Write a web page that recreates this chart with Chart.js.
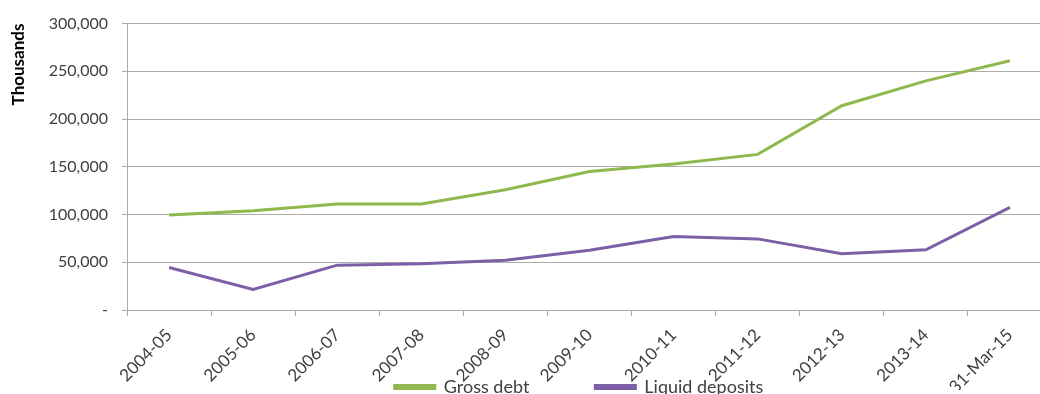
<!DOCTYPE html>
<html>
<head>
<meta charset="utf-8">
<script src="https://cdn.jsdelivr.net/npm/chart.js@4/dist/chart.umd.min.js"></script>
<style>
  html, body { margin: 0; padding: 0; background: #ffffff; overflow: hidden; }
  #wrap { position: absolute; left: 0; top: 0; width: 1070px; height: 484px; }
</style>
</head>
<body>
<div id="wrap"><canvas id="chart"></canvas></div>
<script>
// Financial years on the category axis
const categories = ['2004-05', '2005-06', '2006-07', '2007-08', '2008-09', '2009-10',
                    '2010-11', '2011-12', '2012-13', '2013-14', '31-Mar-15'];

// Values in thousands
const grossDebt      = [99500, 104000, 111000, 111000, 126000, 145000, 153000, 163000, 214000, 240000, 261000];
const liquidDeposits = [44500, 21500, 47000, 48500, 52000, 62500, 77000, 74500, 59000, 63000, 107500];

// Value axis range
const yMin = 0;
const yMax = 300000;
const yStep = 50000;

const seriesNames = ['Gross debt', 'Liquid deposits'];
const axisTitle = 'Thousands';

const GREEN = '#8fb84f';
const PURPLE = '#7c5fa6';
const GRID = '#ababab';
const TEXT = '#404040';
const FONT = 'Lato, "Open Sans", sans-serif';
const LEGEND_SIZE = 18;
const LEGEND_GAP = 66;

// Places the legend row: horizontal nudge and a fixed text centre line
const legendPlace = {
  id: 'legendPlace',
  afterLayout(chart, args, opts) {
    const lg = chart.legend;
    if (!lg) return;
    lg.left += opts.dx;
    lg.right += opts.dx;
    const top = opts.textY - LEGEND_GAP - LEGEND_SIZE / 2;
    lg.bottom = top + lg.height;
    lg.top = top;
  }
};

new Chart(document.getElementById('chart'), {
  type: 'line',
  data: {
    labels: categories,
    datasets: [
      {
        label: seriesNames[0],
        data: grossDebt,
        borderColor: GREEN,
        backgroundColor: GREEN,
        borderWidth: 3,
        pointRadius: 0,
        tension: 0
      },
      {
        label: seriesNames[1],
        data: liquidDeposits,
        borderColor: PURPLE,
        backgroundColor: PURPLE,
        borderWidth: 3,
        pointRadius: 0,
        tension: 0
      }
    ]
  },
  options: {
    responsive: true,
    maintainAspectRatio: false,
    animation: false,
    layout: { padding: { left: 0, right: 18, top: 22, bottom: 0 } },
    plugins: {
      tooltip: { enabled: false },
      legendPlace: { dx: 53, textY: 387 },
      legend: {
        position: 'bottom',
        align: 'center',
        labels: {
          font: { family: FONT, size: LEGEND_SIZE },
          color: TEXT,
          boxWidth: 40,
          boxHeight: 3,
          padding: LEGEND_GAP
        }
      }
    },
    scales: {
      x: {
        offset: true,
        grid: {
          offset: true,
          drawOnChartArea: false,
          drawTicks: true,
          tickLength: 6,
          color: GRID
        },
        border: { color: GRID, width: 1 },
        ticks: {
          font: { family: FONT, size: 17 },
          color: TEXT,
          minRotation: 45,
          maxRotation: 45,
          padding: 9,
          autoSkip: false
        },
        afterFit(scale) { scale.height = 80; }
      },
      y: {
        min: yMin,
        max: yMax,
        grid: {
          color: GRID,
          tickLength: 5,
          drawTicks: true
        },
        border: { color: GRID, width: 1 },
        ticks: {
          stepSize: yStep,
          font: { family: FONT, size: 16 },
          color: TEXT,
          padding: 14,
          callback: (v) => v === 0 ? '-' : v.toLocaleString('en-US')
        },
        title: {
          display: true,
          text: axisTitle,
          align: 'end',
          color: '#000000',
          font: { family: FONT, size: 17, weight: 'bold' },
          padding: { top: 8, bottom: 0 }
        },
        afterFit(scale) { scale.width = 127; }
      }
    }
  },
  plugins: [legendPlace]
});
</script>
</body>
</html>
